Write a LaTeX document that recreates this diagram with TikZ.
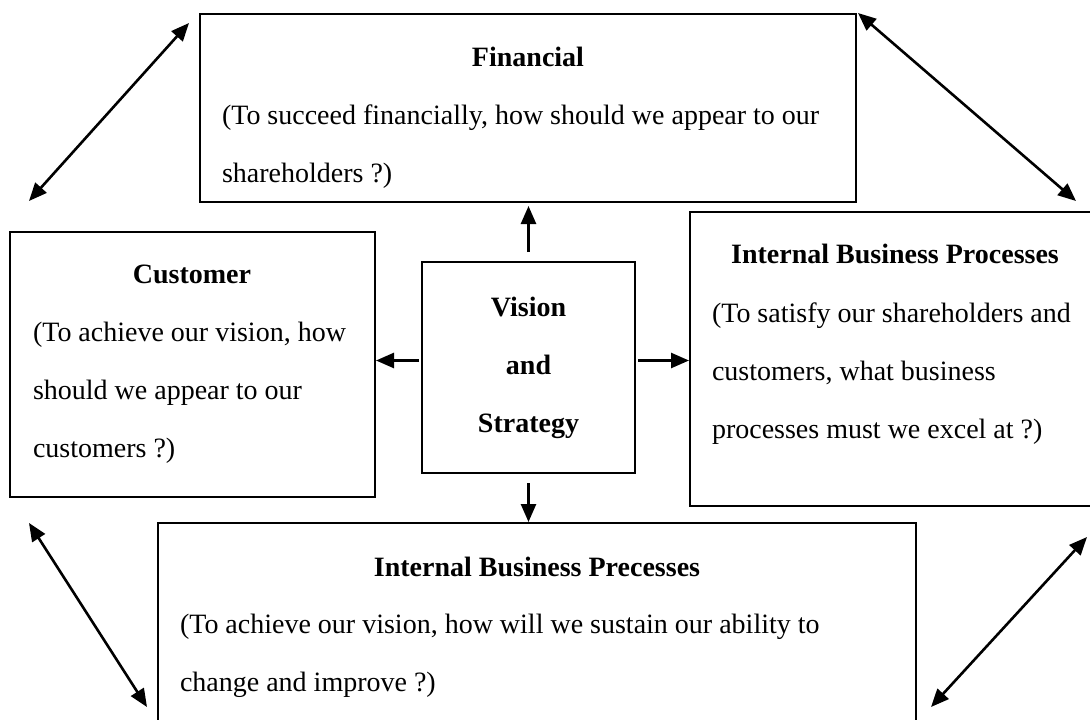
\documentclass[tikz,border=0pt]{standalone}
\usepackage{fontspec}
\setmainfont{Liberation Serif}
\usetikzlibrary{arrows.meta,calc}

\begin{document}
\begin{tikzpicture}[x=1pt,y=-1pt,line width=2pt,>={Triangle[length=18pt,width=15pt]}]
    \useasboundingbox (0,0) rectangle (1090,720);
    \clip (0,0) rectangle (1090,720);

    \tikzset{bscbox/.style={draw=black,rectangle,inner sep=0pt},
             bschead/.style={font=\fontsize{28}{58}\selectfont\bfseries,anchor=base,align=center,inner sep=0pt},
             bscbody/.style={font=\fontsize{28}{58}\selectfont,anchor=base west,align=left,inner sep=0pt},
             bscarrow/.style={line width=2.6pt}}

    % the five boxes
    \node[bscbox,minimum width=656pt,minimum height=188pt] (fin) at (528,108) {};
    \node[bscbox,minimum width=365pt,minimum height=265pt] (cust) at (192.5,364.5) {};
    \node[bscbox,minimum width=213pt,minimum height=211pt] (vis) at (528.5,367.5) {};
    \node[bscbox,minimum width=410pt,minimum height=294pt] (ibp) at (895,359) {};
    \node[bscbox,minimum width=758pt,minimum height=237pt] (learn) at (537,641.5) {};

    % texts (base = last line)
    \node[bschead] (fint) at (528,66) {Financial};
    \node[bscbody] (finb) at (221,182) {(To succeed financially, how should we appear to our\\shareholders ?)};

    \node[bschead] (custt) at (192,283) {Customer};
    \node[bscbody] (custb) at (32,457) {(To achieve our vision, how\\should we appear to our\\customers ?)};

    \node[bschead] (vist) at (528.5,432) {Vision\\and\\Strategy};

    \node[bschead] (ibpt) at (895,263) {Internal Business Processes};
    \node[bscbody] (ibpb) at (711,438) {(To satisfy our shareholders and\\customers, what business\\processes must we excel at ?)};

    \node[bschead] (learnt) at (537,576) {Internal Business Precesses};
    \node[bscbody] (learnb) at (179,691) {(To achieve our vision, how will we sustain our ability to\\change and improve ?)};

    % from the centre
    \draw[bscarrow,->,shorten <=9pt,shorten >=3pt] (vis.north) -- (vis.north |- fin.south);
    \draw[bscarrow,->,shorten <=2pt] ([yshift=7pt]vis.west) -- ([yshift=7pt]vis.west -| cust.east);
    \draw[bscarrow,->,shorten <=2pt] ([yshift=7pt]vis.east) -- ([yshift=7pt]vis.east -| ibp.west);
    \draw[bscarrow,->,shorten <=9pt] (vis.south) -- (vis.south |- learn.north);

    % round the outside
    \draw[bscarrow,<->] ([shift={(-10,10)}]fin.north west) -- ([shift={(20,-30)}]cust.north west);
    \draw[bscarrow,<->] ([shift={(1,0)}]fin.north east) -- ([shift={(-25,-10)}]ibp.north east);
    \draw[bscarrow,<->] ([shift={(20,25)}]cust.south west) -- ([shift={(-10,185)}]learn.north west);
    \draw[bscarrow,<->] ([shift={(-14,30)}]ibp.south east) -- ([shift={(14,185)}]learn.north east);
\end{tikzpicture}
\end{document}
